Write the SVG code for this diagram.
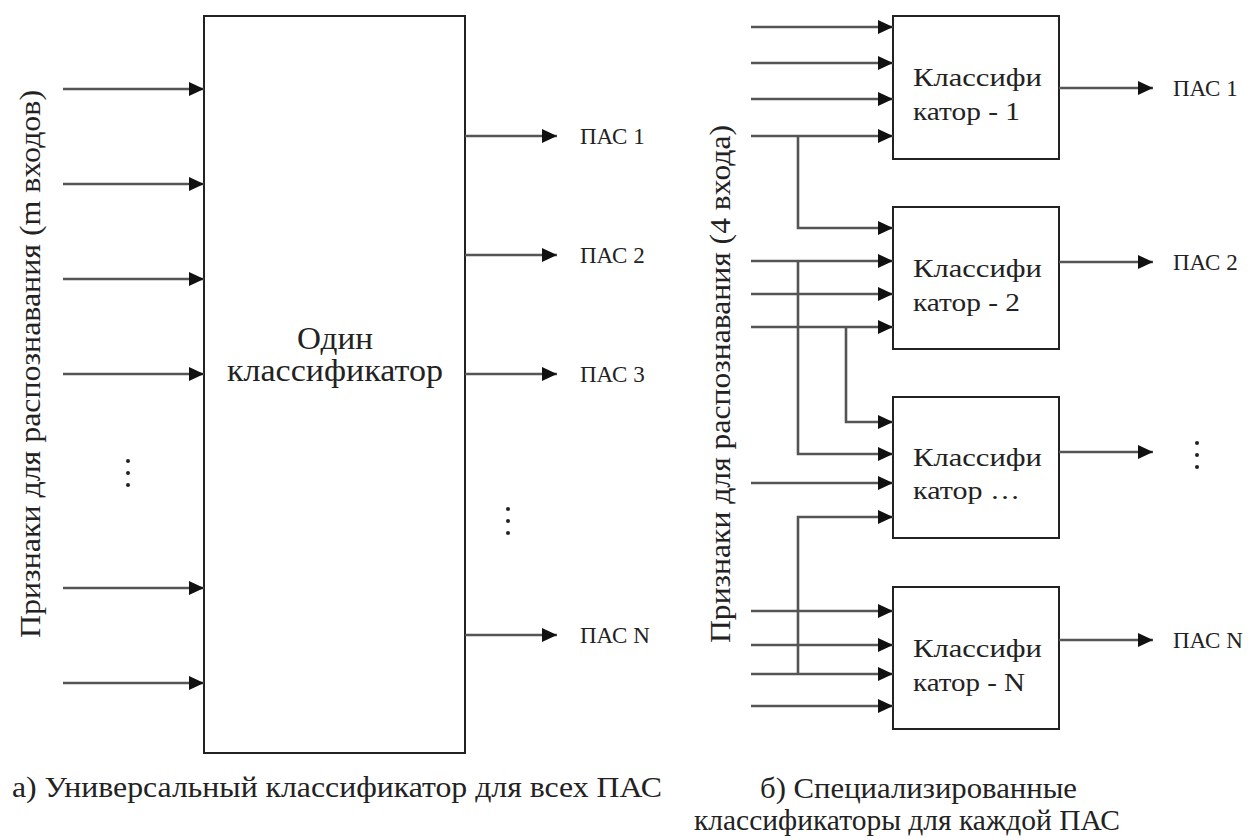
<svg xmlns="http://www.w3.org/2000/svg" width="1253" height="840" viewBox="0 0 1253 840">
<defs>
<marker id="arr" markerUnits="userSpaceOnUse" markerWidth="15" markerHeight="14" refX="15" refY="7" orient="auto">
<path d="M0,0 L15,7 L0,14 z" fill="#111"/>
</marker>
<style>
.box{fill:#fff;stroke:#222;stroke-width:2}
.ln{fill:none;stroke:#555;stroke-width:2.6}
.ar{marker-end:url(#arr)}
.dot{fill:#222}
</style>
</defs>
<rect width="1253" height="840" fill="#fff"/>

<g id="main-classifier">
<rect class="box" x="204" y="16" width="261" height="737"/>
<text fill="#222" font-family="Liberation Serif" font-size="31" x="335" y="349" text-anchor="middle" textLength="76" lengthAdjust="spacingAndGlyphs">Один</text>
<text fill="#222" font-family="Liberation Serif" font-size="31" x="335" y="381" text-anchor="middle" textLength="216" lengthAdjust="spacingAndGlyphs">классификатор</text>
</g>

<g id="left-inputs-label">
<text fill="#222" font-family="Liberation Serif" font-size="30" transform="translate(40,364) rotate(-90)" text-anchor="middle" textLength="548" lengthAdjust="spacingAndGlyphs">Признаки для распознавания (m входов)</text>
<circle class="dot" cx="128" cy="461" r="2"/>
<circle class="dot" cx="128" cy="473" r="2"/>
<circle class="dot" cx="128" cy="485" r="2"/>
</g>

<g id="left-outputs">
<text fill="#222" font-family="Liberation Serif" font-size="23" x="580" y="144">ПАС 1</text>
<text fill="#222" font-family="Liberation Serif" font-size="23" x="580" y="263">ПАС 2</text>
<text fill="#222" font-family="Liberation Serif" font-size="23" x="580" y="382">ПАС 3</text>
<circle class="dot" cx="508" cy="509" r="2"/>
<circle class="dot" cx="508" cy="521" r="2"/>
<circle class="dot" cx="508" cy="533" r="2"/>
<text fill="#222" font-family="Liberation Serif" font-size="23" x="580" y="643">ПАС N</text>
</g>

<g id="classifier-1">
<rect class="box" x="893" y="16" width="166" height="143"/>
<text fill="#222" font-family="Liberation Serif" font-size="25" x="913" y="86" textLength="129" lengthAdjust="spacingAndGlyphs">Классифи</text>
<text fill="#222" font-family="Liberation Serif" font-size="25" x="913" y="120" textLength="107" lengthAdjust="spacingAndGlyphs">катор - 1</text>
</g>
<g id="classifier-2">
<rect class="box" x="893" y="207" width="166" height="142"/>
<text fill="#222" font-family="Liberation Serif" font-size="25" x="913" y="277" textLength="129" lengthAdjust="spacingAndGlyphs">Классифи</text>
<text fill="#222" font-family="Liberation Serif" font-size="25" x="913" y="311" textLength="107" lengthAdjust="spacingAndGlyphs">катор - 2</text>
</g>
<g id="classifier-3">
<rect class="box" x="893" y="397" width="166" height="141"/>
<text fill="#222" font-family="Liberation Serif" font-size="25" x="913" y="466" textLength="129" lengthAdjust="spacingAndGlyphs">Классифи</text>
<text fill="#222" font-family="Liberation Serif" font-size="25" x="913" y="499" textLength="107" lengthAdjust="spacingAndGlyphs">катор …</text>
</g>
<g id="classifier-N">
<rect class="box" x="893" y="587" width="166" height="142"/>
<text fill="#222" font-family="Liberation Serif" font-size="25" x="913" y="657" textLength="129" lengthAdjust="spacingAndGlyphs">Классифи</text>
<text fill="#222" font-family="Liberation Serif" font-size="25" x="913" y="691" textLength="112" lengthAdjust="spacingAndGlyphs">катор - N</text>
</g>

<g id="right-inputs-label">
<text fill="#222" font-family="Liberation Serif" font-size="30" transform="translate(730,384) rotate(-90)" text-anchor="middle" textLength="518" lengthAdjust="spacingAndGlyphs">Признаки для распознавания (4 входа)</text>
</g>

<g id="right-outputs">
<text fill="#222" font-family="Liberation Serif" font-size="23" x="1173" y="96">ПАС 1</text>
<text fill="#222" font-family="Liberation Serif" font-size="23" x="1173" y="270">ПАС 2</text>
<circle class="dot" cx="1197" cy="443" r="2"/>
<circle class="dot" cx="1197" cy="455" r="2"/>
<circle class="dot" cx="1197" cy="467" r="2"/>
<text fill="#222" font-family="Liberation Serif" font-size="23" x="1173" y="648">ПАС N</text>
</g>

<g id="captions">
<text fill="#222" font-family="Liberation Serif" font-size="29" x="12" y="797" textLength="650" lengthAdjust="spacingAndGlyphs">а) Универсальный классификатор для всех ПАС</text>
<text fill="#222" font-family="Liberation Serif" font-size="29" x="760" y="798" textLength="317" lengthAdjust="spacingAndGlyphs">б) Специализированные</text>
<text fill="#222" font-family="Liberation Serif" font-size="29" x="694" y="830" textLength="426" lengthAdjust="spacingAndGlyphs">классификаторы для каждой ПАС</text>
</g>

<g id="connectors">
<line class="ln ar" x1="63" y1="89" x2="204" y2="89"/>
<line class="ln ar" x1="63" y1="184" x2="204" y2="184"/>
<line class="ln ar" x1="63" y1="279" x2="204" y2="279"/>
<line class="ln ar" x1="63" y1="374" x2="204" y2="374"/>
<line class="ln ar" x1="63" y1="588" x2="204" y2="588"/>
<line class="ln ar" x1="63" y1="683" x2="204" y2="683"/>
<line class="ln ar" x1="465" y1="136" x2="557" y2="136"/>
<line class="ln ar" x1="465" y1="255" x2="557" y2="255"/>
<line class="ln ar" x1="465" y1="374" x2="557" y2="374"/>
<line class="ln ar" x1="465" y1="635" x2="557" y2="635"/>
<line class="ln ar" x1="751" y1="27" x2="893" y2="27"/>
<line class="ln ar" x1="751" y1="63" x2="893" y2="63"/>
<line class="ln ar" x1="751" y1="99" x2="893" y2="99"/>
<line class="ln ar" x1="751" y1="136" x2="893" y2="136"/>
<path class="ln ar" d="M798,136 V228 H893"/>
<line class="ln ar" x1="751" y1="261" x2="893" y2="261"/>
<line class="ln ar" x1="751" y1="294" x2="893" y2="294"/>
<line class="ln ar" x1="751" y1="327" x2="893" y2="327"/>
<path class="ln ar" d="M798,261 V454 H893"/>
<path class="ln ar" d="M846,327 V422 H893"/>
<line class="ln ar" x1="751" y1="483" x2="893" y2="483"/>
<path class="ln ar" d="M798,674 V517 H893"/>
<line class="ln ar" x1="751" y1="611" x2="893" y2="611"/>
<line class="ln ar" x1="751" y1="645" x2="893" y2="645"/>
<line class="ln ar" x1="751" y1="674" x2="893" y2="674"/>
<line class="ln ar" x1="751" y1="706" x2="893" y2="706"/>
<line class="ln ar" x1="1059" y1="88" x2="1153" y2="88"/>
<line class="ln ar" x1="1059" y1="262" x2="1153" y2="262"/>
<line class="ln ar" x1="1059" y1="452" x2="1153" y2="452"/>
<line class="ln ar" x1="1059" y1="640" x2="1153" y2="640"/>
</g>
</svg>
